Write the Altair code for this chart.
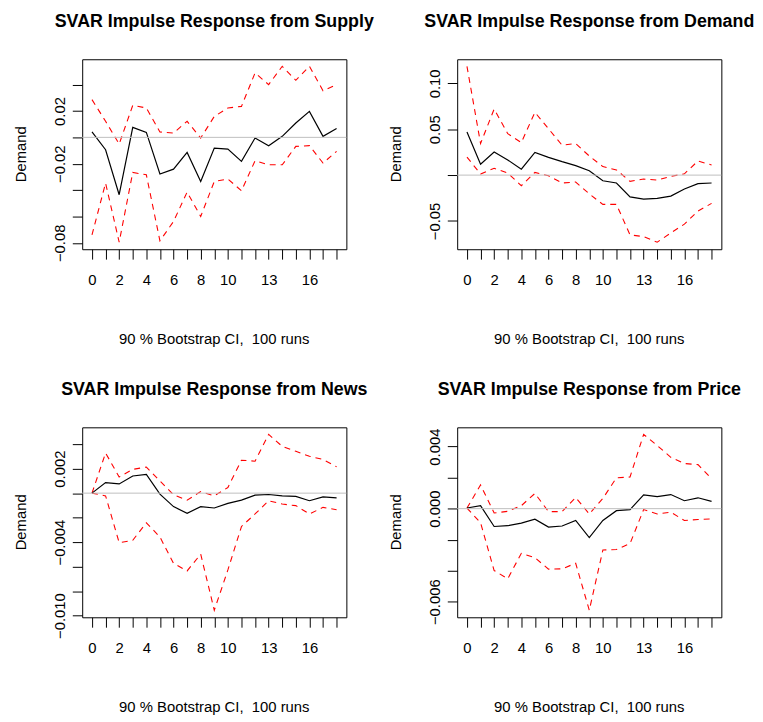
import altair as alt
import pandas as pd

horizon = list(range(19))
x_labels_shown = [0, 2, 4, 6, 8, 10, 13, 16]

# --- Supply shock -> Demand
supply_irf = [0.0041, -0.0094, -0.0435, 0.0076, 0.0038, -0.0278, -0.0241, -0.0114, -0.0334, -0.0081,
              -0.0089, -0.0182, -0.0005, -0.0063, 0.0008, 0.0109, 0.0197, 0.0008, 0.0068]
supply_upper = [0.0286, 0.0122, -0.0051, 0.0243, 0.0223, 0.0041, 0.0033, 0.0122, -0.0005, 0.0159,
                0.0223, 0.0235, 0.0489, 0.0400, 0.0539, 0.0433, 0.0539, 0.0354, 0.0400]
supply_lower = [-0.0739, -0.0347, -0.0795, -0.0266, -0.0284, -0.0785, -0.0638, -0.0415, -0.0600, -0.0334,
                -0.0316, -0.0405, -0.0177, -0.0208, -0.0208, -0.0068, -0.0063, -0.0195, -0.0106]
supply_yticks = [-0.08, -0.06, -0.04, -0.02, 0.0, 0.02, 0.04]
supply_yshown = [-0.08, -0.02, 0.02]

# --- Demand shock -> Demand
demand_irf = [0.0470, 0.0118, 0.0251, 0.0165, 0.0065, 0.0247, 0.0194, 0.0147, 0.0104, 0.0047,
              -0.0061, -0.0086, -0.0237, -0.0262, -0.0254, -0.0229, -0.0151, -0.0093, -0.0086]
demand_upper = [0.1186, 0.0344, 0.0720, 0.0452, 0.0355, 0.0685, 0.0505, 0.0326, 0.0344, 0.0208,
                0.0093, 0.0057, -0.0068, -0.0043, -0.0054, -0.0014, 0.0014, 0.0154, 0.0111]
demand_lower = [0.0197, 0.0011, 0.0075, 0.0022, -0.0115, 0.0029, -0.0007, -0.0086, -0.0075, -0.0204,
                -0.0319, -0.0319, -0.0652, -0.0670, -0.0731, -0.0631, -0.0534, -0.0391, -0.0308]
demand_yticks = [-0.05, 0.0, 0.05, 0.10]
demand_yshown = [-0.05, 0.05, 0.10]

# --- News shock -> Demand
news_irf = [0.0, 0.00086, 0.00075, 0.00140, 0.00153, -0.00008, -0.00110, -0.00164, -0.00110, -0.00121,
            -0.00083, -0.00057, -0.00016, -0.00011, -0.00022, -0.00027, -0.00062, -0.00030, -0.00038]
news_upper = [0.0, 0.00328, 0.00132, 0.00194, 0.00213, 0.00100, -0.00013, -0.00057, 0.00013, -0.00022,
              0.00046, 0.00269, 0.00261, 0.00480, 0.00382, 0.00342, 0.00301, 0.00275, 0.00215]
news_lower = [0.0, -0.00022, -0.00404, -0.00385, -0.00242, -0.00358, -0.00573, -0.00635, -0.00498, -0.00956,
              -0.00627, -0.00272, -0.00170, -0.00062, -0.00089, -0.00102, -0.00170, -0.00116, -0.00135]
news_yticks = [-0.010, -0.008, -0.006, -0.004, -0.002, 0.0, 0.002, 0.004]
news_yshown = [-0.010, -0.004, 0.002]

# --- Price shock -> Demand
price_irf = [0.00004, 0.00019, -0.00115, -0.00110, -0.00093, -0.00068, -0.00119, -0.00112, -0.00076, -0.00187,
             -0.00076, -0.00013, -0.00006, 0.00089, 0.00078, 0.00091, 0.00051, 0.00070, 0.00047]
price_upper = [0.00004, 0.00153, -0.00028, -0.00017, 0.00019, 0.00098, -0.00019, -0.00019, 0.00072, -0.00034,
               0.00066, 0.00199, 0.00204, 0.00479, 0.00407, 0.00331, 0.00291, 0.00284, 0.00193]
price_lower = [0.00004, -0.00091, -0.00399, -0.00452, -0.00288, -0.00316, -0.00390, -0.00388, -0.00352, -0.00655,
               -0.00267, -0.00263, -0.00225, -0.00006, -0.00034, -0.00023, -0.00076, -0.00070, -0.00066]
price_yticks = [-0.006, -0.004, -0.002, 0.0, 0.002, 0.004]
price_yshown = [-0.006, 0.0, 0.004]

y_title = "Demand"
subtitle = "90 % Bootstrap CI,\u00a0 100 runs"

W, H = 267, 192
FONT = "Liberation Sans"


def panel(title, irf, upper, lower, yticks, yshown, fmt):
    n = len(horizon)
    df = pd.DataFrame({
        "h": horizon * 3,
        "v": irf + upper + lower,
        "s": ["irf"] * n + ["upper"] * n + ["lower"] * n,
    })
    allv = irf + upper + lower
    lo, hi = min(allv), max(allv)
    pad = 0.04 * (hi - lo)
    xscale = alt.Scale(domain=[-0.04 * 18, 18 * 1.04], nice=False, zero=False)
    yscale = alt.Scale(domain=[lo - pad, hi + pad], nice=False, zero=False)
    xaxis = alt.Axis(
        values=horizon, title=None, format="d", grid=False, domain=False,
        labelExpr=f"indexof({x_labels_shown}, datum.value) >= 0 ? datum.label : ''",
        labelAngle=0, labelAlign="center", labelBaseline="alphabetic", labelPadding=25.5,
        labelOverlap=False, labelFlush=False,
    )
    yaxis = alt.Axis(
        values=yticks, title=None, format=fmt, grid=False, domain=False,
        labelExpr=f"indexof({yshown}, datum.value) >= 0 ? datum.label : ''",
        labelAngle=270, labelAlign="center", labelBaseline="alphabetic", labelPadding=8,
        labelOverlap=False, labelFlush=False,
    )
    base = alt.Chart(df)
    red = base.transform_filter("datum.s != 'irf'").mark_line(
        color="#FF0000", strokeDash=[6, 5], strokeWidth=1.1
    ).encode(
        x=alt.X("h:Q", scale=xscale, axis=xaxis),
        y=alt.Y("v:Q", scale=yscale, axis=yaxis),
        detail="s:N",
    )
    black = base.transform_filter("datum.s == 'irf'").mark_line(
        color="black", strokeWidth=1.2
    ).encode(
        x=alt.X("h:Q", scale=xscale, axis=xaxis),
        y=alt.Y("v:Q", scale=yscale, axis=yaxis),
    )
    zero = alt.Chart(pd.DataFrame({"z": [0.0]})).mark_rule(
        color="#BEBEBE", strokeWidth=1
    ).encode(y=alt.Y("z:Q", scale=yscale, axis=yaxis))
    ttl = alt.Chart(pd.DataFrame({"t": [title]})).mark_text(
        font=FONT, fontSize=18, fontWeight="bold", align="center",
        baseline="alphabetic", color="black"
    ).encode(text="t:N", x=alt.value(W / 2), y=alt.value(-32.8))
    sub = alt.Chart(pd.DataFrame({"t": [subtitle]})).mark_text(
        font=FONT, fontSize=15, align="center", baseline="alphabetic", color="black"
    ).encode(text="t:N", x=alt.value(W / 2), y=alt.value(H + 95.7))
    yt = alt.Chart(pd.DataFrame({"t": [y_title]})).mark_text(
        font=FONT, fontSize=15, align="center", baseline="alphabetic", angle=270, color="black"
    ).encode(text="t:N", x=alt.value(-56.7), y=alt.value(H / 2))
    return alt.layer(red, black, zero, ttl, sub, yt).properties(width=W, height=H)


p1 = panel("SVAR Impulse Response from Supply", supply_irf, supply_upper, supply_lower,
           supply_yticks, supply_yshown, ".2f")
p2 = panel("SVAR Impulse Response from Demand", demand_irf, demand_upper, demand_lower,
           demand_yticks, demand_yshown, ".2f")
p3 = panel("SVAR Impulse Response from News", news_irf, news_upper, news_lower,
           news_yticks, news_yshown, ".3f")
p4 = panel("SVAR Impulse Response from Price", price_irf, price_upper, price_lower,
           price_yticks, price_yshown, ".3f")

chart = alt.concat(p1, p2, p3, p4, columns=2, spacing={"row": 32, "column": 13}).properties(
    padding={"left": 5, "top": 0, "right": 0, "bottom": 0},
    background="white",
).configure_view(
    stroke="black", strokeWidth=1
).configure_axis(
    domain=False, grid=False, ticks=True, tickColor="black", tickSize=10, tickWidth=1,
    labelFont=FONT, labelFontSize=15, labelColor="black",
)

chart.save("out.html", embed_options={"renderer": "svg", "actions": False})
